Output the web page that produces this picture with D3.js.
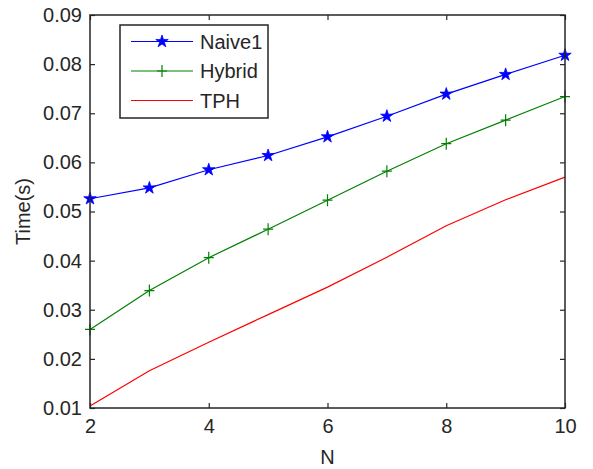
<!DOCTYPE html>
<html>
<head>
<meta charset="utf-8">
<script src="https://cdn.jsdelivr.net/npm/d3@7"></script>
<style>
html,body{margin:0;padding:0;background:#fff;}
svg{display:block;font-family:"Liberation Sans",Arial,Helvetica,sans-serif;}
</style>
</head>
<body>
<svg id="chart" width="593" height="469"></svg>
<script>
const N = [2, 3, 4, 5, 6, 7, 8, 9, 10];
const naive1 = [0.0526, 0.0548, 0.0585, 0.0614, 0.0652, 0.0694, 0.0739, 0.0779, 0.0818];
const hybrid = [0.0260, 0.0339, 0.0406, 0.0464, 0.0523, 0.0582, 0.0638, 0.0686, 0.0734];
const tph    = [0.0104, 0.0176, 0.0234, 0.0290, 0.0346, 0.0407, 0.0471, 0.0524, 0.0570];
const xTicks = [2, 4, 6, 8, 10];
const yTicks = [0.01, 0.02, 0.03, 0.04, 0.05, 0.06, 0.07, 0.08, 0.09];
const seriesNames = ["Naive1", "Hybrid", "TPH"];
const seriesColors = ["#0000ff", "#008000", "#ff0000"];
const seriesMarkers = ["star", "plus", "none"];

const svg = d3.select("#chart");
const L = 90, R = 565, T = 15, B = 408;
const x = d3.scaleLinear().domain([2, 10]).range([L, R]);
const y = d3.scaleLinear().domain([0.01, 0.09]).range([B, T]);
const axisColor = "#262626";

svg.append("rect").attr("width", 593).attr("height", 469).attr("fill", "#fff");

// axes with inward ticks
const gx = svg.append("g").attr("transform", `translate(0,${B})`)
  .call(d3.axisBottom(x).tickValues(xTicks).tickSize(-5).tickSizeOuter(0).tickPadding(11).tickFormat(d3.format("d")));
const gxTop = svg.append("g").attr("transform", `translate(0,${T})`)
  .call(d3.axisTop(x).tickValues(xTicks).tickSize(-5).tickSizeOuter(0).tickFormat(""));
const gy = svg.append("g").attr("transform", `translate(${L},0)`)
  .call(d3.axisLeft(y).tickValues(yTicks).tickSize(-5).tickSizeOuter(0).tickPadding(8).tickFormat(d3.format(".2f")));
const gyR = svg.append("g").attr("transform", `translate(${R},0)`)
  .call(d3.axisRight(y).tickValues(yTicks).tickSize(-5).tickSizeOuter(0).tickFormat(""));
[gx, gxTop, gy, gyR].forEach(g => {
  g.select(".domain").remove();
  g.selectAll(".tick line").attr("stroke", axisColor).attr("stroke-width", 1.2);
  g.selectAll(".tick text").attr("fill", axisColor).attr("font-size", 20).attr("font-family", "Liberation Sans, Arial, sans-serif");
});

// data lines
const allSeries = [naive1, hybrid, tph];
const line = d3.line().x((d, i) => x(N[i])).y(d => y(d));
allSeries.forEach((vals, si) => {
  svg.append("path").datum(vals).attr("d", line)
    .attr("fill", "none").attr("stroke", seriesColors[si]).attr("stroke-width", 1.2);
});

function drawMarker(g, type, cx, cy, color) {
  if (type === "star") {
    g.append("path").attr("d", d3.symbol().type(d3.symbolStar).size(48)())
      .attr("transform", `translate(${cx},${cy})`).attr("fill", color).attr("stroke", color).attr("stroke-width", 0.8);
  } else if (type === "plus") {
    g.append("path").attr("d", `M${cx-5},${cy}H${cx+5}M${cx},${cy-6}V${cy+6}`)
      .attr("stroke", color).attr("stroke-width", 1.2).attr("fill", "none");
  }
}
allSeries.forEach((vals, si) => {
  const g = svg.append("g");
  vals.forEach((v, i) => drawMarker(g, seriesMarkers[si], x(N[i]), y(v), seriesColors[si]));
});

// box
svg.append("rect").attr("x", L).attr("y", T).attr("width", R - L).attr("height", B - T)
  .attr("fill", "none").attr("stroke", axisColor).attr("stroke-width", 1.5);

// axis labels
svg.append("text").attr("x", (L + R) / 2).attr("y", 464).attr("text-anchor", "middle")
  .attr("font-size", 20).attr("fill", axisColor).text("N");
svg.append("text").attr("transform", `translate(30,${(T + B) / 2}) rotate(-90)`).attr("text-anchor", "middle")
  .attr("font-size", 20).attr("fill", axisColor).text("Time(s)");

// legend
const lg = svg.append("g");
lg.append("rect").attr("x", 120).attr("y", 25).attr("width", 148).attr("height", 93)
  .attr("fill", "#fff").attr("stroke", axisColor).attr("stroke-width", 1.5);
seriesNames.forEach((name, i) => {
  const ly = 41.5 + i * 29.5;
  lg.append("line").attr("x1", 131).attr("x2", 193).attr("y1", ly).attr("y2", ly)
    .attr("stroke", seriesColors[i]).attr("stroke-width", 1.2);
  drawMarker(lg, seriesMarkers[i], 162, ly, seriesColors[i]);
  lg.append("text").attr("x", 200).attr("y", ly).attr("dy", "0.36em")
    .attr("font-size", 20).attr("fill", axisColor).text(name);
});
</script>
</body>
</html>
